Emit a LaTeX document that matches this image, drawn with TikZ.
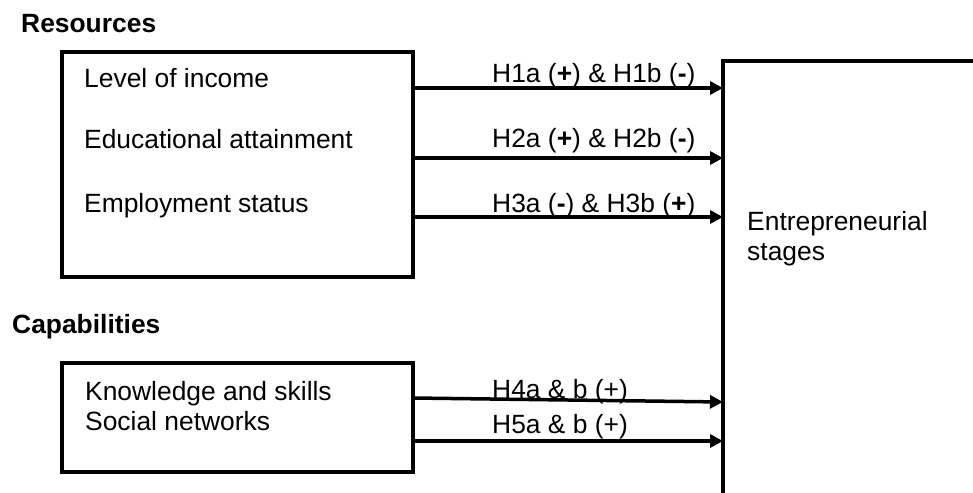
\documentclass[tikz,border=0pt]{standalone}
\usepackage{fontspec}
\setmainfont{Liberation Sans}
\usetikzlibrary{arrows.meta}
\tikzset{
  box/.style = {draw, line width=3.5pt, inner sep=0pt, outer sep=0pt, anchor=north west},
  lbl/.style = {inner sep=0pt, anchor=base west, font=\fontsize{26.4}{30}\selectfont, align=left},
  head/.style = {lbl, font=\fontsize{26.4}{30}\selectfont\bfseries},
  link/.style = {line width=3.5pt, -{Triangle[length=13pt,width=13pt]}}
}
\newcommand{\pos}{(\textbf{+})}
\newcommand{\negs}{(\textbf{-})}

\begin{document}
\begin{tikzpicture}[x=1pt,y=-1pt]

  \clip (0,0) rectangle (973,492);

  % the two groups on the left
  \node[head] (reshead) at (21,33) {Resources};
  \node[box, minimum width=351pt, minimum height=225pt] (res) at (62,52) {};
  \node[lbl] (income) at (84,88) {Level of income};
  \node[lbl] (educ) at (84,148) {Educational attainment};
  \node[lbl] (empl) at (84,212) {Employment status};

  \node[head] (caphead) at (12,333) {Capabilities};
  \node[box, minimum width=351pt, minimum height=109pt] (cap) at (62,363) {};
  \node[lbl] (know) at (85,430) {Knowledge and skills\\Social networks};

  % outcome box, runs off the page
  \node[box, minimum width=300pt, minimum height=480pt] (stg) at (723,61) {};
  \node[lbl] (stgtxt) at (747,260) {Entrepreneurial\\stages};

  \coordinate (r1) at (413,88);
  \coordinate (r2) at (413,158);
  \coordinate (r3) at (413,217);
  \coordinate (c1) at (413,398);
  \coordinate (c2) at (413,441);

  \draw[link] (r1) -- (r1 -| stg.west);
  \draw[link] (r2) -- (r2 -| stg.west);
  \draw[link] (r3) -- (r3 -| stg.west);
  \draw[link] (c1) -- ([yshift=-4pt]c1 -| stg.west);
  \draw[link] (c2) -- (c2 -| stg.west);

  \node[lbl] (h1) at (492,83) {H1a \pos{} \& H1b \negs};
  \node[lbl] (h2) at (492,147) {H2a \pos{} \& H2b \negs};
  \node[lbl] (h3) at (492,212) {H3a \negs{} \& H3b \pos};
  \node[lbl] (h4) at (492,398) {H4a \& b (+)};
  \node[lbl] (h5) at (492,433) {H5a \& b (+)};

\end{tikzpicture}
\end{document}
